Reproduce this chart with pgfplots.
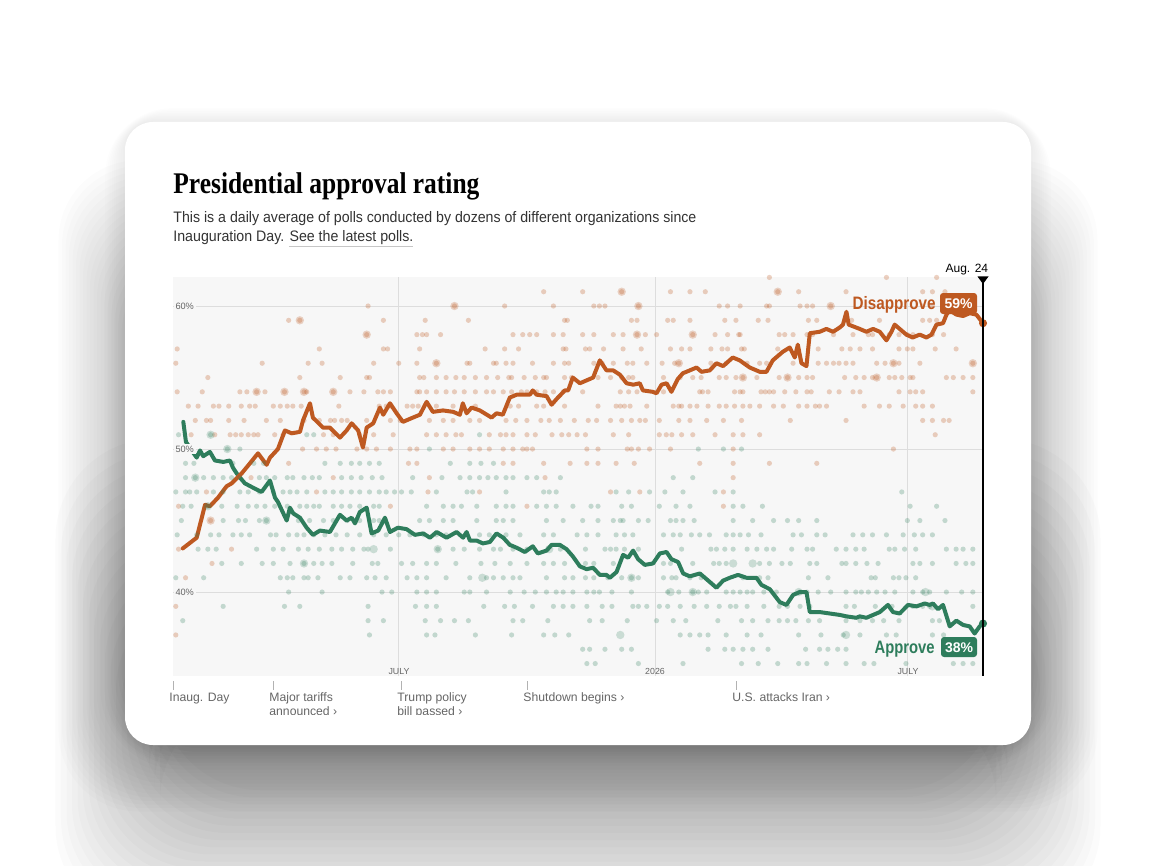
\documentclass[border=0pt]{standalone}
\usepackage{graphicx}
\usepackage{pgfplots}
\pgfplotsset{compat=1.18}
\usepackage{fontspec}
\setmainfont{Liberation Sans}
\newfontfamily\titlefont{Liberation Serif}
\definecolor{dis}{HTML}{BE5921}
\definecolor{app}{HTML}{2E7D5C}
\definecolor{plotbg}{HTML}{F7F7F7}
\definecolor{gridc}{HTML}{DDDDDD}
\definecolor{txt}{HTML}{333333}
\definecolor{lbl}{HTML}{666666}
\begin{document}
\begin{tikzpicture}
\begin{scope}[x=0.5pt,y=-0.5pt]
\path[use as bounding box] (0,0) rectangle (1156,866);
\fill[white] (0,0) rectangle (1156,866);
\foreach \i in {1,...,10} {
  \pgfmathsetmacro{\e}{22*(1-\i/10)}
  \fill[black, opacity=0.009, rounded corners=14+\e] (125-\e,122-0.7*\e) rectangle (1031+\e,745+\e);
}
\foreach \i in {1,...,20} {
  \pgfmathsetmacro{\e}{70*(1-\i/20)}
  \fill[black, opacity=0.01, rounded corners=40] (125-\e,260-1.5*\e) rectangle (1031+\e,745+\e);
}
\foreach \i in {1,...,20} {
  \pgfmathsetmacro{\e}{110*(1-\i/20)}
  \fill[black, opacity=0.017, rounded corners=50] (160-\e,700-2.5*\e) rectangle (996+\e,790+1.3*\e);
}
\fill[white, rounded corners=14] (125,122) rectangle (1031,745);
\node[anchor=base west, inner sep=0] at (173,194) {\resizebox{153pt}{\height}{\titlefont\bfseries\fontsize{15}{17}\selectfont Presidential approval rating}};
\node[anchor=base west, inner sep=0, text=txt] at (173,223) {\resizebox{261.5pt}{\height}{\fontsize{7.6}{9}\selectfont This is a daily average of polls conducted by dozens of different organizations since}};
\node[anchor=base west, inner sep=0, text=txt] at (173,242) {\resizebox{120pt}{\height}{\fontsize{7.6}{9}\selectfont Inauguration Day. See the latest polls.}};
\draw[gray!45, line width=0.5pt] (289,246.5) -- (413,246.5);
\end{scope}

\begin{axis}[
  at={(86.5pt,-338pt)}, anchor=south west,
  width=405pt, height=199.5pt, scale only axis,
  xmin=0, xmax=581.3, ymin=34.13, ymax=62.03,
  axis background/.style={fill=plotbg},
  axis line style={draw=none}, major tick style={draw=none},
  xtick={162,346,527}, xticklabels={},
  ytick={40,50,60}, yticklabels={},
  xmajorgrids, ymajorgrids, grid style={gridc, line width=0.5pt},
  clip=true,
]
% ---- poll dots: disapprove ----
\addplot[only marks, mark=*, mark size=1.3pt, color=dis, mark options={fill=dis, fill opacity=0.28, draw opacity=0}] coordinates {
(428,62) (512,62) (548,62)
(266,61) (294,61) (322,61) (357,61) (371,61) (382,61) (434,61) (449,61) (483,61) (538,61) (545,61) (554,61)
(140,60) (202,60) (238,60) (273,60) (302,60) (306,60) (310,60) (334,60) (392,60) (398,60) (407,60) (426,60) (428,60) (450,60) (455,60) (459,60) (472,60) (538,60) (545,60)
(83,59) (91,59) (151,59) (181,59) (212,59) (281,59) (283,59) (329,59) (333,59) (355,59) (359,59) (371,59) (396,59) (404,59) (420,59) (427,59) (456,59) (462,59) (487,59) (507,59) (538,59) (543,59) (548,59)
(139,58) (175,58) (179,58) (182,58) (192,58) (244,58) (251,58) (256,58) (261,58) (273,58) (280,58) (294,58) (302,58) (316,58) (323,58) (333,58) (339,58) (347,58) (373,58) (389,58) (398,58) (406,58) (407,58) (435,58) (439,58) (445,58) (455,58) (459,58) (474,58) (488,58) (499,58) (502,58) (514,58) (521,58) (527,58) (531,58) (545,58) (553,58)
(3,57) (105,57) (151,57) (154,57) (177,57) (224,57) (238,57) (248,57) (280,57) (282,57) (296,57) (299,57) (309,57) (323,57) (336,57) (357,57) (365,57) (371,57) (386,57) (394,57) (398,57) (408,57) (410,57) (434,57) (463,57) (480,57) (486,57) (493,57) (502,57) (521,57) (527,57) (531,57) (547,57) (562,57)
(2,56) (64,56) (97,56) (107,56) (144,56) (162,56) (175,56) (189,56) (211,56) (213,56) (230,56) (232,56) (239,56) (244,56) (258,56) (273,56) (281,56) (284,56) (302,56) (308,56) (316,56) (326,56) (330,56) (340,56) (351,56) (360,56) (363,56) (386,56) (397,56) (412,56) (421,56) (426,56) (445,56) (463,56) (469,56) (474,56) (478,56) (483,56) (488,56) (505,56) (511,56) (517,56) (521,56) (536,56) (574,56)
(25,55) (91,55) (120,55) (139,55) (141,55) (177,55) (180,55) (189,55) (196,55) (203,55) (209,55) (217,55) (225,55) (233,55) (241,55) (243,55) (252,55) (260,55) (266,55) (268,55) (281,55) (286,55) (305,55) (314,55) (322,55) (327,55) (330,55) (352,55) (364,55) (373,55) (379,55) (392,55) (397,55) (404,55) (409,55) (419,55) (435,55) (441,55) (449,55) (455,55) (459,55) (482,55) (490,55) (496,55) (502,55) (505,55) (514,55) (518,55) (523,55) (529,55) (531,55) (555,55) (560,55) (567,55) (574,55)
(3,54) (21,54) (48,54) (53,54) (60,54) (66,54) (80,54) (94,54) (96,54) (115,54) (127,54) (137,54) (147,54) (151,54) (156,54) (175,54) (177,54) (182,54) (189,54) (196,54) (202,54) (209,54) (217,54) (225,54) (230,54) (237,54) (243,54) (250,54) (254,54) (261,54) (267,54) (273,54) (280,54) (294,54) (321,54) (327,54) (333,54) (352,54) (378,54) (380,54) (384,54) (403,54) (407,54) (409,54) (422,54) (425,54) (428,54) (431,54) (439,54) (447,54) (455,54) (458,54) (471,54) (478,54) (488,54) (493,54) (521,54) (529,54) (533,54) (538,54) (574,54)
(11,53) (18,53) (29,53) (33,53) (40,53) (49,53) (55,53) (59,53) (72,53) (77,53) (82,53) (86,53) (92,53) (119,53) (148,53) (153,53) (156,53) (168,53) (172,53) (176,53) (189,53) (201,53) (217,53) (242,53) (248,53) (261,53) (266,53) (281,53) (305,53) (318,53) (321,53) (324,53) (328,53) (340,53) (359,53) (363,53) (365,53) (371,53) (376,53) (384,53) (392,53) (397,53) (403,53) (409,53) (414,53) (421,53) (431,53) (438,53) (449,53) (455,53) (461,53) (464,53) (469,53) (496,53) (507,53) (514,53) (524,53) (533,53) (538,53) (545,53)
(16,52) (24,52) (27,52) (40,52) (51,52) (67,52) (77,52) (94,52) (105,52) (113,52) (116,52) (121,52) (125,52) (139,52) (156,52) (163,52) (184,52) (194,52) (201,52) (213,52) (220,52) (239,52) (246,52) (254,52) (264,52) (270,52) (278,52) (288,52) (298,52) (304,52) (314,52) (322,52) (329,52) (335,52) (339,52) (349,52) (363,52) (371,52) (383,52) (395,52) (408,52) (443,52) (483,52) (538,52) (545,52) (553,52) (557,52)
(13,51) (30,51) (41,51) (45,51) (49,51) (54,51) (58,51) (61,51) (73,51) (79,51) (108,51) (115,51) (134,51) (144,51) (158,51) (182,51) (189,51) (196,51) (203,51) (207,51) (227,51) (235,51) (239,51) (244,51) (254,51) (260,51) (272,51) (279,51) (284,51) (290,51) (296,51) (316,51) (327,51) (349,51) (354,51) (358,51) (365,51) (373,51) (389,51) (402,51) (409,51) (421,51) (547,51)
(93,50) (103,50) (110,50) (117,50) (132,50) (139,50) (146,50) (156,50) (170,50) (175,50) (194,50) (201,50) (213,50) (220,50) (227,50) (237,50) (244,50) (251,50) (254,50) (258,50) (297,50) (305,50) (326,50) (329,50) (334,50) (342,50) (357,50) (402,50) (517,50)
(83,49) (169,49) (175,49) (237,49) (244,49) (266,49) (285,49) (297,49) (305,49) (318,49) (331,49) (378,49) (402,49) (428,49) (462,49)
(56,48) (115,48) (184,48) (267,48) (402,48)
(24,47) (103,47) (183,47) (220,47) (314,47) (335,47) (395,47)
(4,46) (156,46) (254,46) (395,46)
(27,45) (4,43) (42,43) (28,42) (9,41) (2,39) (2,37)
};
% larger disapprove polls
\addplot[only marks, mark=*, mark size=2.1pt, color=dis, mark options={fill=dis, fill opacity=0.25, draw opacity=0}] coordinates {
(27,45) (60,54) (80,54) (94,54) (115,54) (334,60) (373,58) (363,56) (472,60) (517,56) (574,56) (202,60) (91,59) (322,61) (441,55) (505,55) (409,55) (139,58) (189,56) (333,58) (434,61)
};
% ---- poll dots: approve ----
\addplot[only marks, mark=*, mark size=1.3pt, color=app, mark options={fill=app, fill opacity=0.26, draw opacity=0}] coordinates {
(4,51) (27,51) (96,51) (101,51) (220,51)
(39,50) (48,50) (184,50) (377,50) (395,50) (408,50)
(9,49) (15,49) (43,49) (58,49) (65,49) (109,49) (120,49) (128,49) (134,49) (141,49) (148,49) (199,49) (213,49) (221,49) (230,49)
(9,48) (16,48) (22,48) (29,48) (36,48) (42,48) (48,48) (62,48) (67,48) (73,48) (82,48) (86,48) (94,48) (100,48) (105,48) (121,48) (128,48) (135,48) (143,48) (150,48) (172,48) (193,48) (206,48) (213,48) (220,48) (226,48) (232,48) (239,48) (244,48) (254,48) (261,48) (278,48) (359,48) (373,48)
(2,47) (9,47) (12,47) (17,47) (29,47) (36,47) (48,47) (54,47) (62,47) (72,47) (79,47) (84,47) (89,47) (96,47) (109,47) (115,47) (121,47) (128,47) (134,47) (141,47) (148,47) (153,47) (159,47) (164,47) (171,47) (189,47) (211,47) (215,47) (239,47) (266,47) (270,47) (275,47) (318,47) (327,47) (342,47) (353,47) (366,47) (389,47) (402,47) (523,47)
(7,46) (13,46) (25,46) (35,46) (46,46) (54,46) (60,46) (66,46) (73,46) (82,46) (91,46) (96,46) (101,46) (105,46) (115,46) (121,46) (127,46) (134,46) (144,46) (148,46) (182,46) (194,46) (201,46) (207,46) (218,46) (232,46) (239,46) (244,46) (261,46) (268,46) (275,46) (287,46) (300,46) (305,46) (322,46) (329,46) (349,46) (361,46) (371,46) (402,46) (409,46) (423,46) (529,46) (548,46)
(6,45) (36,45) (47,45) (52,45) (62,45) (67,45) (90,45) (98,45) (108,45) (115,45) (125,45) (134,45) (144,45) (148,45) (177,45) (184,45) (194,45) (201,45) (218,45) (232,45) (237,45) (244,45) (268,45) (280,45) (294,45) (305,45) (316,45) (321,45) (323,45) (334,45) (341,45) (357,45) (361,45) (366,45) (374,45) (402,45) (416,45) (431,45) (441,45) (449,45) (462,45) (527,45) (536,45) (554,45)
(3,44) (17,44) (27,44) (33,44) (43,44) (49,44) (55,44) (70,44) (74,44) (83,44) (89,44) (94,44) (101,44) (109,44) (117,44) (125,44) (134,44) (144,44) (153,44) (162,44) (170,44) (180,44) (189,44) (196,44) (220,44) (227,44) (239,44) (249,44) (266,44) (273,44) (290,44) (297,44) (305,44) (318,44) (324,44) (330,44) (352,44) (359,44) (364,44) (372,44) (378,44) (385,44) (397,44) (402,44) (407,44) (413,44) (422,44) (445,44) (451,44) (462,44) (468,44) (488,44) (495,44) (502,44) (512,44) (524,44) (532,44) (538,44) (545,44)
(18,43) (25,43) (31,43) (60,43) (72,43) (79,43) (90,43) (97,43) (105,43) (114,43) (121,43) (129,43) (137,43) (140,43) (156,43) (190,43) (201,43) (209,43) (220,43) (230,43) (235,43) (244,43) (254,43) (278,43) (296,43) (310,43) (314,43) (318,43) (324,43) (334,43) (365,43) (386,43) (390,43) (396,43) (402,43) (412,43) (419,43) (426,43) (431,43) (444,43) (455,43) (459,43) (476,43) (483,43) (490,43) (496,43) (514,43) (518,43) (525,43) (533,43) (555,43) (562,43) (567,43) (574,43)
(35,42) (49,42) (64,42) (72,42) (84,42) (94,42) (101,42) (107,42) (114,42) (129,42) (143,42) (147,42) (164,42) (172,42) (182,42) (189,42) (203,42) (221,42) (231,42) (242,42) (254,42) (266,42) (273,42) (281,42) (296,42) (302,42) (316,42) (352,42) (357,42) (373,42) (388,42) (392,42) (397,42) (421,42) (428,42) (437,42) (443,42) (457,42) (462,42) (480,42) (483,42) (490,42) (498,42) (506,42) (531,42) (536,42) (545,42) (562,42) (569,42) (574,42)
(2,41) (22,41) (77,41) (82,41) (86,41) (94,41) (97,41) (104,41) (120,41) (127,41) (139,41) (145,41) (153,41) (168,41) (175,41) (182,41) (196,41) (213,41) (225,41) (230,41) (237,41) (244,41) (249,41) (268,41) (281,41) (287,41) (296,41) (302,41) (312,41) (322,41) (329,41) (334,41) (352,41) (358,41) (361,41) (371,41) (379,41) (409,41) (421,41) (427,41) (456,41) (470,41) (501,41) (504,41) (517,41) (521,41) (526,41) (533,41)
(83,40) (107,40) (150,40) (157,40) (175,40) (182,40) (189,40) (209,40) (213,40) (225,40) (242,40) (252,40) (260,40) (268,40) (275,40) (280,40) (287,40) (297,40) (302,40) (306,40) (315,40) (329,40) (355,40) (363,40) (373,40) (377,40) (383,40) (397,40) (402,40) (407,40) (412,40) (416,40) (424,40) (433,40) (450,40) (455,40) (463,40) (472,40) (483,40) (490,40) (494,40) (499,40) (505,40) (511,40) (518,40) (531,40) (538,40) (543,40) (555,40) (566,40) (574,40)
(36,39) (80,39) (91,39) (140,39) (174,39) (182,39) (189,39) (223,39) (238,39) (245,39) (258,39) (273,39) (280,39) (287,39) (297,39) (308,39) (315,39) (330,39) (334,39) (340,39) (349,39) (355,39) (364,39) (374,39) (383,39) (392,39) (400,39) (404,39) (412,39) (424,39) (435,39) (441,39) (450,39) (457,39) (483,39) (489,39) (504,39) (516,39) (531,39) (538,39) (543,39) (574,39)
(7,38) (140,38) (151,38) (181,38) (192,38) (202,38) (212,38) (244,38) (251,38) (269,38) (299,38) (308,38) (326,38) (347,38) (359,38) (368,38) (391,38) (408,38) (416,38) (427,38) (435,38) (441,38) (447,38) (456,38) (464,38) (483,38) (493,38) (502,38) (510,38) (521,38) (545,38) (550,38)
(141,37) (182,37) (188,37) (217,37) (243,37) (266,37) (274,37) (284,37) (364,37) (371,37) (378,37) (384,37) (397,37) (412,37) (422,37) (449,37) (465,37) (481,37) (493,37) (512,37) (519,37) (545,37) (553,37)
(294,36) (299,36) (310,36) (322,36) (329,36) (384,36) (396,36) (402,36) (409,36) (416,36) (427,36) (454,36) (464,36) (470,36) (477,36) (483,36) (567,36)
(297,35) (303,35) (334,35) (366,35) (408,35) (420,35) (434,35) (449,35) (455,35) (469,35) (483,35) (496,35) (503,35) (526,35) (560,35) (567,35) (574,35)
(385,34) (463,34) (483,34) (519,34) (538,34) (555,34)
};
% larger approve polls
\addplot[only marks, mark=*, mark size=2.1pt, color=app, mark options={fill=app, fill opacity=0.22, draw opacity=0}] coordinates {
(27,51) (39,50) (16,48) (94,42) (67,45) (25,46) (144,43) (329,41) (357,40) (373,40) (483,37) (449,40) (402,42) (270,43) (540,40) (545,39) (190,43) (222,41) (321,37) (416,42)
};
% ---- approve average ----
\addplot[app, line width=2pt, line join=round, line cap=round] coordinates {
(7.4,51.9) (9.3,50.5) (13.4,49.9) (17.0,49.4) (19.4,49.9) (21.7,49.5) (26.5,49.8) (30.1,49.2) (36.1,49.1) (40.9,49.2) (43.0,48.7) (45.7,48.3) (48.1,48.0) (51.6,47.6) (57.4,47.3) (63.6,47.0) (69.6,47.8) (73.2,46.6) (75.3,46.3) (81.6,45.0) (83.9,45.9) (86.3,45.5) (91.1,45.2) (95.9,44.5) (100.4,44.0) (105.5,44.3) (112.6,44.2) (119.8,45.4) (124.6,45.0) (128.2,45.2) (130.6,44.8) (134.1,45.6) (139.0,45.9) (142.5,44.1) (147.3,44.3) (152.1,45.2) (155.7,44.2) (161.4,44.5) (167.6,44.4) (173.6,44.0) (179.6,44.1) (184.4,43.8) (189.2,44.2) (196.3,43.8) (203.5,44.2) (208.2,43.8) (210.7,44.2) (213.1,43.6) (217.9,43.6) (222.4,43.4) (227.4,43.5) (232.2,44.1) (237.0,43.8) (241.7,43.3) (246.6,43.1) (252.5,42.8) (258.2,43.2) (261.8,42.7) (268.1,42.9) (271.7,43.3) (277.6,43.3) (282.4,43.0) (286.9,42.5) (292.0,41.8) (296.8,41.6) (301.5,41.7) (306.3,41.2) (311.1,41.2) (313.5,41.0) (318.3,41.4) (323.0,42.6) (326.6,42.4) (330.2,42.9) (333.8,42.3) (338.6,41.9) (344.5,42.0) (349.4,42.7) (354.2,42.8) (357.7,42.3) (362.5,42.1) (366.1,41.3) (370.9,41.1) (378.1,41.3) (384.1,40.8) (390.0,40.3) (394.8,40.8) (399.6,41.0) (405.5,41.2) (411.5,41.0) (418.7,41.0) (422.3,40.5) (428.3,40.2) (435.4,39.3) (440.2,39.1) (445.0,39.8) (449.8,40.0) (454.6,40.0) (457.0,38.6) (464.1,38.6) (471.3,38.5) (478.5,38.4) (483.3,38.3) (490.4,38.2) (492.8,38.3) (497.6,38.2) (502.4,38.4) (507.2,38.6) (513.1,39.1) (516.7,38.6) (521.5,38.5) (527.5,39.1) (533.5,39.0) (539.5,39.2) (543.0,39.1) (545.4,39.2) (549.0,38.8) (552.6,39.1) (557.4,37.6) (562.2,38.0) (567.0,37.7) (571.7,37.6) (575.3,37.1) (578.9,37.6) (581.3,37.8)
};
% ---- disapprove average ----
\addplot[dis, line width=2pt, line join=round, line cap=round] coordinates {
(7.0,43.05) (17.0,43.8) (23.0,46.1) (26.5,46.0) (32.3,46.6) (38.5,47.4) (42.1,47.6) (49.3,48.3) (55.2,49.0) (61.0,49.7) (67.2,48.9) (69.6,49.4) (75.3,50.0) (80.3,51.3) (85.1,51.1) (91.1,51.2) (93.3,52.0) (98.3,53.2) (100.4,52.2) (107.6,51.5) (112.6,51.5) (119.8,50.8) (124.6,51.3) (128.2,51.8) (132.9,51.3) (136.3,50.1) (139.0,51.5) (143.7,51.8) (148.5,52.9) (150.9,52.4) (155.7,53.2) (160.5,52.5) (165.0,51.9) (172.2,52.2) (177.2,52.4) (182.0,53.3) (186.5,52.6) (193.7,52.7) (201.1,52.6) (205.9,52.4) (208.0,53.2) (210.7,52.5) (214.3,52.9) (220.2,52.7) (228.6,52.2) (232.2,52.5) (236.7,52.4) (241.7,53.6) (246.6,53.8) (256.1,53.8) (258.2,54.1) (260.9,53.8) (268.1,53.7) (271.7,53.1) (275.3,53.5) (281.2,54.1) (283.6,54.1) (286.9,55.0) (292.0,54.6) (296.8,54.8) (301.5,55.0) (306.3,56.2) (311.1,55.5) (315.9,55.5) (320.7,55.2) (325.5,54.6) (330.3,54.5) (335.0,54.6) (337.2,54.1) (344.3,54.0) (347.0,53.9) (350.6,54.5) (354.2,54.6) (357.7,54.0) (362.3,54.9) (365.9,55.3) (370.9,55.5) (375.7,55.7) (379.3,55.4) (385.2,55.5) (390.0,56.0) (394.8,55.8) (401.7,56.4) (406.7,56.2) (413.9,55.7) (421.1,55.4) (425.9,55.4) (430.4,56.2) (437.6,56.8) (442.6,57.1) (446.2,56.4) (448.4,57.3) (451.0,56.0) (454.6,55.8) (457.0,58.1) (464.1,58.2) (468.9,58.4) (473.7,58.2) (478.5,58.5) (480.8,58.7) (483.3,59.6) (484.9,58.7) (492.8,58.4) (497.6,58.2) (502.4,58.4) (507.2,58.2) (512.0,57.6) (515.6,58.2) (517.9,58.7) (521.5,58.4) (526.3,58.0) (530.8,57.8) (535.9,58.0) (540.7,57.8) (544.3,58.0) (547.9,58.7) (552.6,58.8) (555.1,59.4) (557.4,59.7) (562.2,59.4) (567.0,59.3) (571.7,59.5) (576.5,59.4) (581.3,58.8)
};
% end points
\addplot[only marks, mark=*, mark size=1.8pt, color=dis, mark options={fill=dis}, clip=false] coordinates {(581.3,58.8)};
\addplot[only marks, mark=*, mark size=1.8pt, color=app, mark options={fill=app}, clip=false] coordinates {(581.3,37.8)};
\end{axis}

\begin{scope}[x=0.5pt,y=-0.5pt]
% y tick labels
\foreach \v/\y in {60/306,50/449,40/592} {
  \node[anchor=west, fill=plotbg, inner sep=0.8pt, text=lbl, font=\fontsize{4.6}{5}\selectfont] at (173.5,\y) {\v\%};
}
% x labels
\foreach \x/\t in {399/JULY,655/2026,908/JULY} {
  \node[anchor=base, inner sep=0, text=lbl, font=\fontsize{4.4}{5}\selectfont] at (\x,674) {\t};
}
% date marker
\draw[black, line width=0.6pt] (983,277) -- (983,676);
\fill[black] (977.5,276.5) -- (988.5,276.5) -- (983,284) -- cycle;
\node[anchor=base east, inner sep=0, font=\fontsize{6}{7}\selectfont] at (988.5,272) {Aug. 24};
% series labels
\node[anchor=base east, inner sep=0, text=dis] at (936,309) {\resizebox{41.5pt}{\height}{\bfseries\fontsize{9}{10}\selectfont Disapprove}};
\fill[dis, rounded corners=1.5pt] (940,293) rectangle (977,314);
\node[anchor=base, inner sep=0, text=white, font=\bfseries\fontsize{7}{8}\selectfont] at (958.5,308.5) {59\%};
\node[anchor=base east, inner sep=0, text=app] at (935,653) {\resizebox{30pt}{\height}{\bfseries\fontsize{9}{10}\selectfont Approve}};
\fill[app, rounded corners=1.5pt] (941,637) rectangle (977,657);
\node[anchor=base, inner sep=0, text=white, font=\bfseries\fontsize{7}{8}\selectfont] at (959,652) {38\%};
% event annotations
\foreach \x in {173,273,401,527,736} {
  \draw[gray!60, line width=0.5pt] (\x,681) -- (\x,690);
}
\begin{scope}
\clip (150,680) rectangle (900,714);
\tikzset{ev/.style={anchor=base west, inner sep=0, text=lbl, font=\fontsize{6.1}{7}\selectfont}}
\node[ev] at (169,701) {Inaug. Day};
\node[ev] at (269,701) {Major tariffs};
\node[ev] at (269,715) {announced ›};
\node[ev] at (397,701) {Trump policy};
\node[ev] at (397,715) {bill passed ›};
\node[ev] at (523,701) {Shutdown begins ›};
\node[ev] at (732,701) {U.S. attacks Iran ›};
\end{scope}
\end{scope}
\end{tikzpicture}
\end{document}
